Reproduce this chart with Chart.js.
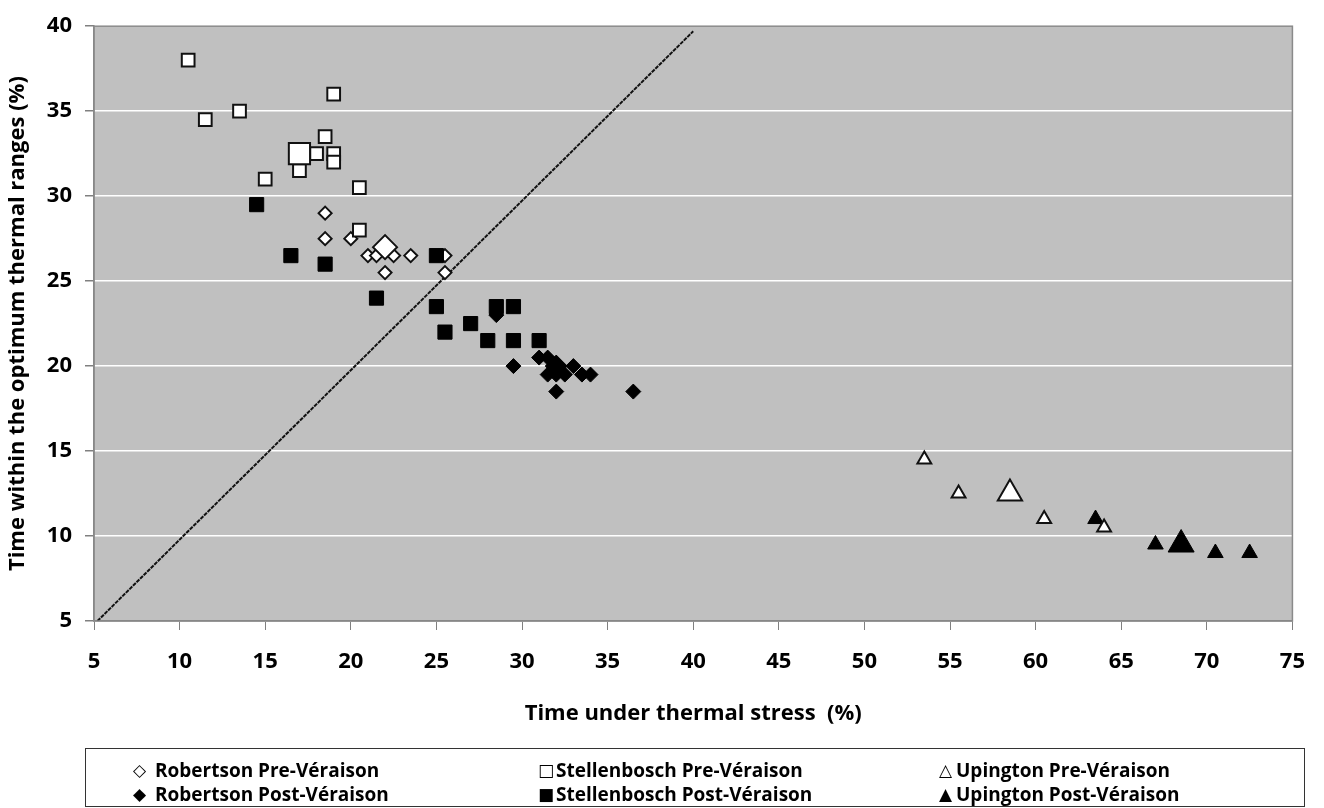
<!DOCTYPE html>
<html>
<head>
<meta charset="utf-8">
<script src="https://cdn.jsdelivr.net/npm/chart.js@4.4.1/dist/chart.umd.min.js"></script>
<style>
  html, body { margin: 0; padding: 0; background: #fff; }
  #wrap { position: relative; width: 1324px; height: 808px; }
</style>
</head>
<body>
<div id="wrap"><canvas id="thermalChart" width="1324" height="808"></canvas></div>
<script>
// Robertson, Stellenbosch, Upington: % of time under stress vs. % of time in optimum range
const robPreX = [18.5, 18.5, 20, 21, 21.5, 22.5, 23.5, 22, 25.5, 25.5];
const robPreY = [29, 27.5, 27.5, 26.5, 26.5, 26.5, 26.5, 25.5, 26.5, 25.5];
const robPreMean = [22, 27];

const robPostX = [28.5, 29.5, 31, 31.5, 33, 31.5, 32, 32.5, 33.5, 34, 32, 36.5];
const robPostY = [23, 20, 20.5, 20.5, 20, 19.5, 19.5, 19.5, 19.5, 19.5, 18.5, 18.5];
const robPostMean = [32, 20];

const stelPreX = [10.5, 19, 13.5, 11.5, 18.5, 18, 19, 19, 17, 15, 20.5, 20.5];
const stelPreY = [38, 36, 35, 34.5, 33.5, 32.5, 32.5, 32, 31.5, 31, 30.5, 28];
const stelPreMean = [17, 32.5];

const stelPostX = [14.5, 16.5, 18.5, 25, 21.5, 25, 28.5, 29.5, 27, 25.5, 28, 29.5, 31];
const stelPostY = [29.5, 26.5, 26, 26.5, 24, 23.5, 23.5, 23.5, 22.5, 22, 21.5, 21.5, 21.5];

const upPreX = [53.5, 55.5, 60.5, 64];
const upPreY = [14.5, 12.5, 11, 10.5];
const upPreMean = [58.5, 12.5];

const upPostX = [63.5, 67, 70.5, 72.5];
const upPostY = [11, 9.5, 9, 9];
const upPostMean = [68.5, 9.5];

// 1:1 reference line
const lineX = [5.2, 40];
const lineY = [5, 39.7];

const legendRows = [
  ['\u25C7', 'Robertson Pre-Véraison', '\u25A1', 'Stellenbosch Pre-Véraison', '\u25B3', 'Upington Pre-Véraison'],
  ['\u25C6', 'Robertson Post-Véraison', '\u25A0', 'Stellenbosch Post-Véraison', '\u25B2', 'Upington Post-Véraison']
];

const toPts = (xs, ys) => xs.map((x, i) => ({ x: x, y: ys[i] }));

const FONT = '"Open Sans", "Liberation Sans", sans-serif';
Chart.defaults.font.family = FONT;
Chart.defaults.color = '#000';

const open = (label, data, style, r, order) => ({
  label, data, pointStyle: style, pointRadius: r, pointHoverRadius: r,
  backgroundColor: '#fff', borderColor: '#111', pointBorderWidth: 2, borderWidth: 2, order
});
const solid = (label, data, style, r, order) => ({
  label, data, pointStyle: style, pointRadius: r, pointHoverRadius: r,
  backgroundColor: '#000', borderColor: '#000', pointBorderWidth: 1, borderWidth: 1, order
});

const plotBg = {
  id: 'plotBg',
  beforeDraw(chart) {
    const { ctx, chartArea: a } = chart;
    ctx.save();
    ctx.fillStyle = '#c0c0c0';
    ctx.fillRect(a.left, a.top, a.right - a.left, a.bottom - a.top);
    ctx.restore();
  },
  afterDraw(chart) {
    const { ctx, chartArea: a } = chart;
    ctx.save();
    ctx.strokeStyle = '#8a8a8a';
    ctx.lineWidth = 1.5;
    ctx.strokeRect(a.left, a.top, a.right - a.left, a.bottom - a.top);

    // legend box below the axis
    ctx.strokeStyle = '#333';
    ctx.lineWidth = 1;
    ctx.strokeRect(85.5, 748.5, 1219, 58);
    const symX = [133, 538, 939];
    const textX = [155, 556, 956];
    const rowsY = [777, 801];
    ctx.fillStyle = '#000';
    ctx.textBaseline = 'alphabetic';
    legendRows.forEach((row, r) => {
      for (let c = 0; c < 3; c++) {
        ctx.font = '17px "DejaVu Sans"';
        ctx.fillText(row[c * 2], symX[c], rowsY[r] - 1);
        ctx.font = 'bold 19px ' + FONT;
        ctx.fillText(row[c * 2 + 1], textX[c], rowsY[r]);
      }
    });
    ctx.restore();
  }
};

new Chart(document.getElementById('thermalChart'), {
  type: 'scatter',
  data: {
    datasets: [
      open('Robertson Pre-Véraison mean', [{ x: robPreMean[0], y: robPreMean[1] }], 'rectRot', 12, 1),
      open('Stellenbosch Pre-Véraison mean', [{ x: stelPreMean[0], y: stelPreMean[1] }], 'rect', 15, 1),
      open('Upington Pre-Véraison mean', [{ x: upPreMean[0], y: upPreMean[1] }], 'triangle', 14, 1),
      solid('Robertson Post-Véraison mean', [{ x: robPostMean[0], y: robPostMean[1] }], 'rectRot', 11, 1),
      solid('Upington Post-Véraison mean', [{ x: upPostMean[0], y: upPostMean[1] }], 'triangle', 15, 1),
      open('Upington Pre-Véraison', toPts(upPreX, upPreY), 'triangle', 8, 2),
      solid('Upington Post-Véraison', toPts(upPostX, upPostY), 'triangle', 9, 3),
      solid('Robertson Post-Véraison', toPts(robPostX, robPostY), 'rectRot', 7.5, 4),
      solid('Stellenbosch Post-Véraison', toPts(stelPostX, stelPostY), 'rect', 10, 5),
      open('Stellenbosch Pre-Véraison', toPts(stelPreX, stelPreY), 'rect', 9, 6),
      open('Robertson Pre-Véraison', toPts(robPreX, robPreY), 'rectRot', 6.5, 7),
      {
        label: '1:1',
        data: toPts(lineX, lineY),
        showLine: true,
        borderColor: '#111',
        borderWidth: 2,
        borderDash: [4, 1],
        pointRadius: 0,
        order: 8
      }
    ]
  },
  options: {
    responsive: false,
    animation: false,
    events: [],
    layout: { padding: { left: 0, top: 19, right: 27, bottom: 77 } },
    plugins: {
      legend: { display: false },
      tooltip: { enabled: false }
    },
    scales: {
      x: {
        type: 'linear',
        min: 5, max: 75,
        afterFit(scale) { scale.height = 110; },
        ticks: { stepSize: 5, padding: 19, font: { size: 22, weight: 'bold' } },
        grid: { drawOnChartArea: false, tickLength: 9, tickColor: '#808080' },
        border: { color: '#808080', width: 1.5 },
        title: {
          display: true,
          text: 'Time under thermal stress  (%)',
          font: { size: 22, weight: 'bold' },
          padding: { top: 5 }
        }
      },
      y: {
        type: 'linear',
        min: 5, max: 40,
        afterFit(scale) { scale.width = 94; },
        ticks: { stepSize: 5, padding: 13, font: { size: 22, weight: 'bold' } },
        grid: { color: '#ffffff', lineWidth: 1.5, tickLength: 9, tickColor: '#808080' },
        border: { color: '#808080', width: 1.5 },
        title: {
          display: true,
          text: 'Time within the optimum thermal ranges (%)',
          font: { size: 22, weight: 'bold' },
          padding: { top: 5 }
        }
      }
    }
  },
  plugins: [plotBg]
});
</script>
</body>
</html>
